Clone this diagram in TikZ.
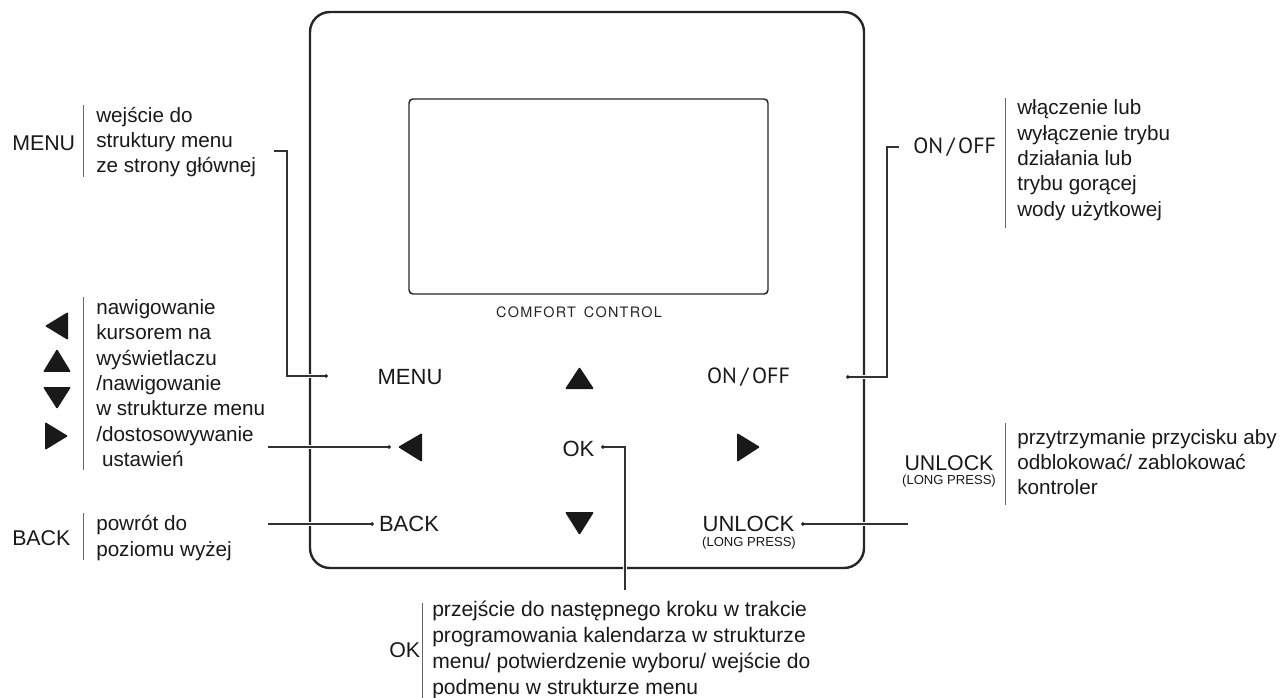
\documentclass[tikz,border=0pt]{standalone}
\usepackage{fontspec}
\setmainfont{Liberation Sans}
\newfontfamily\onofffont{PT Sans}
\newfontfamily\comfortfont[LetterSpace=9]{TeX Gyre Heros}
\newcommand\myfs[2]{\fontsize{#1}{#2}\selectfont}
\begin{document}
\begin{tikzpicture}[x=0.75pt,y=-0.75pt,
  conn/.style={draw=black!80, line width=0.8pt, preaction={draw=white, line width=3pt}},
  sep/.style={draw=black!60, line width=0.7pt},
  dot/.style={circle, fill=black!85, inner sep=0pt, minimum size=2.8pt},
  lbl/.style={inner sep=0pt, text=black!90, font=\myfs{16}{19}},
  desc/.style={inner sep=0pt, align=left, anchor=west, text=black!90, font=\myfs{15.5}{19}},
  btn/.style={inner sep=0pt, text=black!90, font=\myfs{16.5}{19}},
  small/.style={inner sep=0pt, text=black!90, font=\myfs{9.8}{12}},
  tri/.style={fill=black!90, rounded corners=0.8pt},
  dev/.style={draw=black!85, line width=1.8pt, rounded corners=15pt},
  scr/.style={draw=black!85, line width=1.1pt, rounded corners=3pt}]
\useasboundingbox (0,0) rectangle (1288,698);

% device body and screen
\draw[dev] (310,12) rectangle (864,568);
\draw[scr] (409,99) rectangle (768,294);
\node[inner sep=0pt, text=black!85, font=\comfortfont\myfs{10.8}{12}] (brand) at (579,312) {COMFORT\hspace{6pt}CONTROL};

% device buttons
\node[btn] (bMenu) at (410,377) {MENU};
\node[btn, font=\onofffont\myfs{16.5}{19}] (bOnOff) at (748.5,377) {ON\,/\,OFF};
\node[btn] (bOk) at (578.5,449) {OK};
\node[btn] (bBack) at (409,524) {BACK};
\node[btn] (bUnlock) at (748.5,524) {UNLOCK};
\node[small] (bLong) at (749,543) {(LONG PRESS)};
\fill[tri] (565,389) -- (594,389) -- (579.5,367) -- cycle;
\fill[tri] (565,512) -- (594,512) -- (579.5,535) -- cycle;
\fill[tri] (398,447) -- (422,433) -- (422,462) -- cycle;
\fill[tri] (737,433) -- (737,462) -- (760,447) -- cycle;

% connector anchors
\coordinate (menuT) at (274,151);
\coordinate (menuC1) at (287,151);
\coordinate (menuC2) at (287,376);
\node[dot] (menuD) at (326,376) {};
\coordinate (navS) at (268,447);
\node[dot] (navD) at (389,447) {};
\coordinate (backS) at (268,524);
\node[dot] (backD) at (372,524) {};
\node[dot] (okD) at (603,447) {};
\coordinate (okC) at (625,447);
\coordinate (okE) at (625,590);
\coordinate (onT) at (899,147);
\coordinate (onC1) at (887,147);
\coordinate (onC2) at (887,377);
\node[dot] (onD) at (848,377) {};
\node[dot] (unD) at (803,524) {};
\coordinate (unS) at (908,524);

\draw[conn] (menuT) -- (menuC1) -- (menuC2) -- (menuD.center);
\draw[conn] (navS) -- (navD.center);
\draw[conn] (backS) -- (backD.center);
\draw[conn] (okD.center) -- (okC) -- (okE);
\draw[conn] (onT) -- (onC1) -- (onC2) -- (onD.center);
\draw[conn] (unD.center) -- (unS);
\foreach \d in {menuD,navD,backD,okD,onD,unD} \fill[black!85] (\d) circle (1.9);

% left legend: MENU
\node[lbl, anchor=west] (lMenu) at (12,143) {MENU};
\draw[sep] (83,105) -- (83,177);
\node[desc] (dMenu) at (96,142) {wejście do\\struktury menu\\ze strony głównej};

% left legend: navigation
\fill[tri] (45,326) -- (68,312) -- (68,340) -- cycle;
\fill[tri] (43,372) -- (71,372) -- (57,349) -- cycle;
\fill[tri] (43,387) -- (71,387) -- (57,409) -- cycle;
\fill[tri] (45,422) -- (45,450) -- (68,436) -- cycle;
\draw[sep] (83,297) -- (83,470);
\node[desc] (dNav) at (96,383) {nawigowanie\\kursorem na\\wyświetlaczu\\/nawigowanie\\w strukturze menu\\/dostosowywanie\\\hspace{0.28em}ustawień};

% left legend: BACK
\node[lbl, anchor=west] (lBack) at (12,538) {BACK};
\draw[sep] (83,513) -- (83,560);
\node[desc] (dBack) at (96,538) {powrót do\\poziomu wyżej};

% bottom legend: OK
\node[lbl, anchor=west] (lOk) at (389,650) {OK};
\draw[sep] (422,603) -- (422,698);
\node[desc, font=\myfs{15.8}{19.5}] (dOk) at (432,650) {przejście do następnego kroku w trakcie\\programowania kalendarza w strukturze\\menu/ potwierdzenie wyboru/ wejście do\\podmenu w strukturze menu};

% right legend: ON/OFF
\node[lbl, anchor=west, font=\onofffont\myfs{16.5}{19}] (lOnOff) at (913,147) {ON\,/\,OFF};
\draw[sep] (1005,98) -- (1005,228);
\node[desc] (dOnOff) at (1017,160) {włączenie lub\\wyłączenie trybu\\działania lub\\trybu gorącej\\wody użytkowej};

% right legend: UNLOCK
\node[lbl] (lUnlock) at (949,463) {UNLOCK};
\node[small] (lLong) at (949,481) {(LONG PRESS)};
\draw[sep] (1005,423) -- (1005,505);
\node[desc] (dUnlock) at (1017,462) {przytrzymanie przycisku aby\\odblokować/ zablokować\\kontroler};
\end{tikzpicture}
\end{document}
